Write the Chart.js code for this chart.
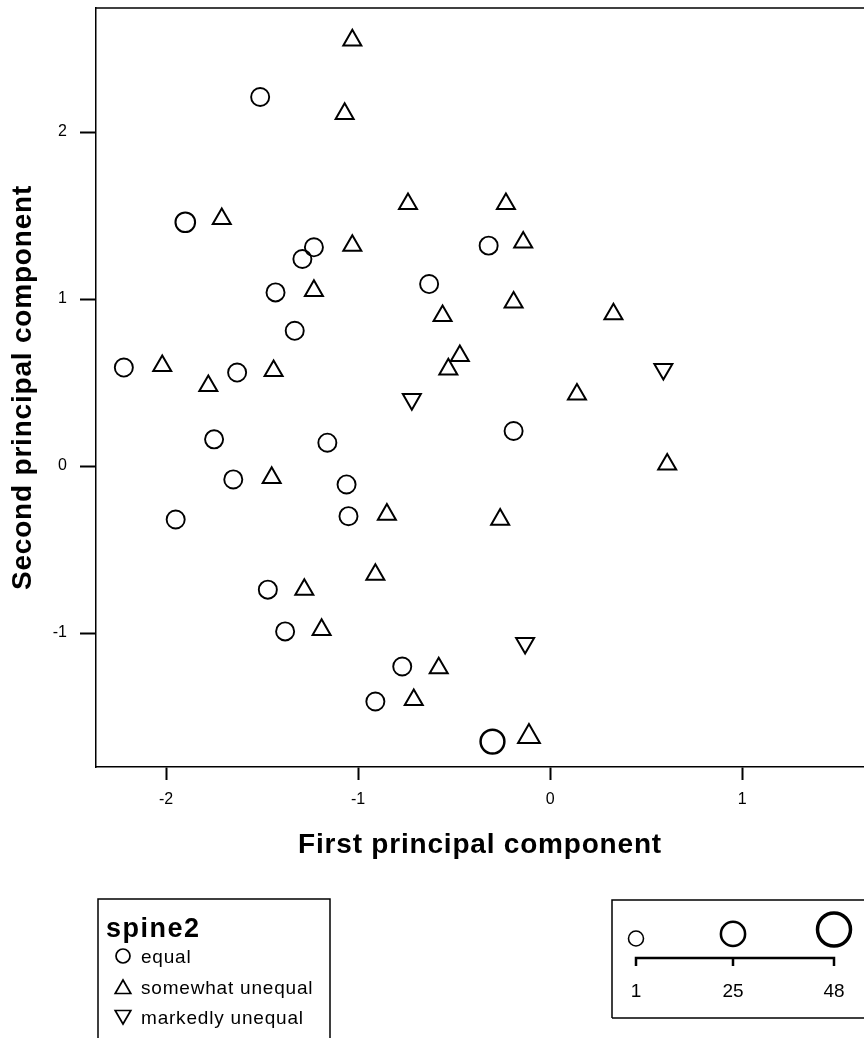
<!DOCTYPE html>
<html>
<head>
<meta charset="utf-8">
<script src="https://cdn.jsdelivr.net/npm/chart.js@4.4.1/dist/chart.umd.min.js"></script>
<style>
  body { margin: 0; background: #fff; }
</style>
</head>
<body>
<canvas id="myChart" width="864" height="1038"></canvas>
<script>
// spine2 = equal
var equalX = [-2.22, -1.51, -1.90, -1.23, -1.29, -1.43, -1.33, -1.63, -1.75, -1.65, -1.16, -1.06, -1.05, -1.95, -1.47, -1.38, -0.77, -0.91, -0.30, -0.63, -0.32, -0.19];
var equalY = [0.59, 2.21, 1.46, 1.31, 1.24, 1.04, 0.81, 0.56, 0.16, -0.08, 0.14, -0.11, -0.30, -0.32, -0.74, -0.99, -1.20, -1.41, -1.65, 1.09, 1.32, 0.21];
var equalSize = [9, 9, 13, 9, 9, 9, 9, 9, 9, 9, 9, 9, 9, 9, 9, 9, 9, 9, 24, 9, 9, 9];

// spine2 = somewhat unequal
var someX = [-1.03, -1.07, -1.71, -0.74, -1.03, -1.23, -0.23, -0.14, -0.19, -0.56, -0.47, -0.53, 0.33, -2.02, -1.78, -1.44, -1.45, -0.85, -0.26, 0.14, 0.61, -1.28, -0.91, -1.19, -0.58, -0.71, -0.11];
var someY = [2.55, 2.11, 1.48, 1.57, 1.32, 1.05, 1.57, 1.34, 0.98, 0.90, 0.66, 0.58, 0.91, 0.60, 0.48, 0.57, -0.07, -0.29, -0.32, 0.43, 0.01, -0.74, -0.65, -0.98, -1.21, -1.40, -1.62];
var someSize = [9, 9, 9, 9, 9, 9, 9, 9, 9, 9, 9, 9, 9, 9, 9, 9, 9, 9, 9, 9, 9, 9, 9, 9, 9, 9, 19];

// spine2 = markedly unequal
var markX = [-0.72, 0.59, -0.13];
var markY = [0.40, 0.58, -1.06];
var markSize = [9, 9, 9];

var groupLabels = ["equal", "somewhat unequal", "markedly unequal"];
var sizeLegendValues = [1, 25, 48];
var xTicks = [-2, -1, 0, 1];
var yTicks = [-1, 0, 1, 2];

var FONT = "Arial, 'Liberation Sans', Helvetica, sans-serif";
Chart.defaults.font.family = FONT;
Chart.defaults.color = "#000";

function toPoints(xs, ys) {
  return xs.map(function (x, i) { return { x: x, y: ys[i] }; });
}

// size variable (1..48) -> marker radius in px
function sizeRadius(v) {
  return 7.5 + (v - 1) * 0.1915;
}

function drawTri(ctx, x, y, r, down) {
  var s = down ? -1 : 1;
  ctx.beginPath();
  ctx.moveTo(x, y - s * r);
  ctx.lineTo(x + r * 0.866, y + s * r / 2);
  ctx.lineTo(x - r * 0.866, y + s * r / 2);
  ctx.closePath();
  ctx.stroke();
}

// the printed axis titles are set quite wide
function wideTitle(scale, spacing) {
  if (scale._wideTitle) return;
  var orig = scale.drawTitle;
  scale.drawTitle = function () {
    this.ctx.save();
    this.ctx.letterSpacing = spacing;
    orig.apply(this, arguments);
    this.ctx.restore();
  };
  scale._wideTitle = true;
}

function noPadding(scale) {
  scale.paddingLeft = 0;
  scale.paddingRight = 0;
  scale.paddingTop = 0;
  scale.paddingBottom = 0;
}

var legendBoxes = {
  id: "legendBoxes",
  afterDraw: function (chart) {
    var ctx = chart.ctx;
    var area = chart.chartArea;
    ctx.save();
    ctx.strokeStyle = "#000";
    ctx.fillStyle = "#000";

    // top edge of the plot frame
    ctx.lineWidth = 1.5;
    ctx.beginPath();
    ctx.moveTo(area.left, area.top);
    ctx.lineTo(area.right, area.top);
    ctx.stroke();

    // group legend
    ctx.beginPath();
    ctx.moveTo(98, 1040);
    ctx.lineTo(98, 899);
    ctx.lineTo(330, 899);
    ctx.lineTo(330, 1040);
    ctx.stroke();

    ctx.textBaseline = "alphabetic";
    ctx.textAlign = "left";
    ctx.letterSpacing = "1.5px";
    ctx.font = "bold 27px " + FONT;
    ctx.fillText("spine2", 106, 937);

    ctx.letterSpacing = "0.8px";
    ctx.font = "19px " + FONT;
    var rows = [963, 994, 1024];
    rows.forEach(function (base, i) {
      var cy = base - 7;
      ctx.lineWidth = 1.7;
      if (i === 0) {
        ctx.beginPath();
        ctx.arc(123, cy, 7, 0, Math.PI * 2);
        ctx.stroke();
      } else {
        drawTri(ctx, 123, cy + (i === 1 ? 2 : -2), 9, i === 2);
      }
      ctx.fillText(groupLabels[i], 141, base);
    });

    // size legend
    ctx.lineWidth = 1.5;
    ctx.beginPath();
    ctx.moveTo(612, 1018);
    ctx.lineTo(612, 900);
    ctx.lineTo(866, 900);
    ctx.moveTo(612, 1018);
    ctx.lineTo(866, 1018);
    ctx.stroke();

    var lx = [636, 733, 834];
    sizeLegendValues.forEach(function (v, i) {
      var r = sizeRadius(v);
      ctx.lineWidth = r * 0.21;
      ctx.beginPath();
      ctx.arc(lx[i], 946 - r, r, 0, Math.PI * 2);
      ctx.stroke();
    });
    ctx.lineWidth = 2.5;
    ctx.beginPath();
    ctx.moveTo(lx[0], 966);
    ctx.lineTo(lx[0], 958);
    ctx.lineTo(lx[2], 958);
    ctx.lineTo(lx[2], 966);
    ctx.moveTo(lx[1], 958);
    ctx.lineTo(lx[1], 966);
    ctx.stroke();

    ctx.textAlign = "center";
    ctx.letterSpacing = "0px";
    ctx.font = "19px " + FONT;
    sizeLegendValues.forEach(function (v, i) {
      ctx.fillText(String(v), lx[i], 997);
    });
    ctx.restore();
  }
};

function markerSet(label, xs, ys, sizes, style, rot, scale) {
  return {
    label: label,
    data: toPoints(xs, ys),
    pointStyle: style,
    rotation: rot,
    pointRadius: function (c) { return sizeRadius(sizes[c.dataIndex]) * scale; },
    pointHoverRadius: function (c) { return sizeRadius(sizes[c.dataIndex]) * scale; },
    pointBorderWidth: function (c) { return style === "circle" ? sizeRadius(sizes[c.dataIndex]) * 0.21 : 2; },
    borderColor: "#000",
    backgroundColor: "rgba(0,0,0,0)",
    showLine: false
  };
}

var ctx = document.getElementById("myChart").getContext("2d");
var myChart = new Chart(ctx, {
  type: "scatter",
  data: {
    datasets: [
      markerSet(groupLabels[0], equalX, equalY, equalSize, "circle", 0, 1),
      markerSet(groupLabels[1], someX, someY, someSize, "triangle", 0, 1.15),
      markerSet(groupLabels[2], markX, markY, markSize, "triangle", 180, 1.15)
    ]
  },
  options: {
    responsive: false,
    animation: false,
    layout: { autoPadding: false, padding: { top: 8, left: 0, right: 0, bottom: 0 } },
    plugins: {
      legend: { display: false },
      tooltip: { enabled: false }
    },
    scales: {
      x: {
        type: "linear",
        min: -2.365,
        max: 1.635,
        afterBuildTicks: function (scale) {
          scale.ticks = xTicks.map(function (v) { return { value: v }; });
        },
        afterFit: function (scale) {
          scale.height = 271;
          noPadding(scale);
          wideTitle(scale, "0.8px");
        },
        grid: { drawOnChartArea: false, drawTicks: true, tickLength: 13, tickWidth: 2, tickColor: "#000" },
        border: { display: true, color: "#000", width: 1.5 },
        ticks: { font: { size: 16 }, padding: 10, maxRotation: 0 },
        title: {
          display: true,
          text: "First principal component",
          font: { size: 28, weight: "bold" },
          padding: { top: 0, bottom: 176 }
        }
      },
      y: {
        type: "linear",
        min: -1.802,
        max: 2.743,
        afterBuildTicks: function (scale) {
          scale.ticks = yTicks.map(function (v) { return { value: v }; });
        },
        afterFit: function (scale) {
          scale.width = 96;
          noPadding(scale);
          wideTitle(scale, "0.8px");
        },
        grid: { drawOnChartArea: false, drawTicks: true, tickLength: 16, tickWidth: 2, tickColor: "#000" },
        border: { display: true, color: "#000", width: 1.5 },
        ticks: { font: { size: 16 }, padding: 13 },
        title: {
          display: true,
          text: "Second principal component",
          font: { size: 28, weight: "bold" },
          padding: { top: 6, bottom: 0 }
        }
      }
    }
  },
  plugins: [legendBoxes]
});
</script>
</body>
</html>
